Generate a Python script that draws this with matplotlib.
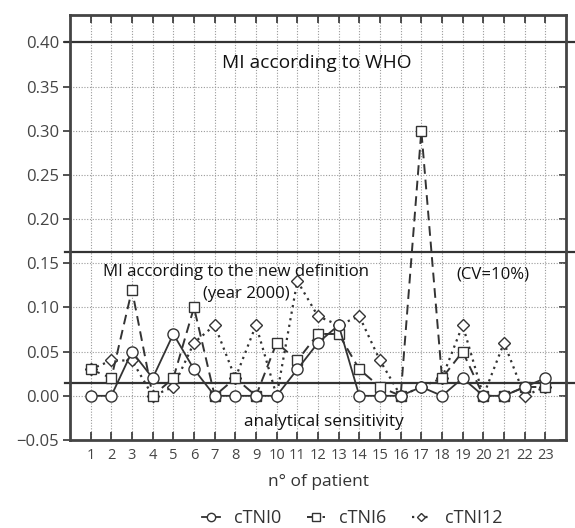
import matplotlib
matplotlib.use("Agg")
import matplotlib.pyplot as plt
import numpy as np

patients = list(range(1, 24))
ctni0 = [0.00, 0.00, 0.05, 0.02, 0.07, 0.03, 0.00, 0.00, 0.00, 0.00, 0.03, 0.06,
         0.08, 0.00, 0.00, 0.00, 0.01, 0.00, 0.02, 0.00, 0.00, 0.01, 0.02]
ctni6 = [0.03, 0.02, 0.12, 0.00, 0.02, 0.10, 0.00, 0.02, 0.00, 0.06, 0.04, 0.07,
         0.07, 0.03, 0.01, 0.00, 0.30, 0.02, 0.05, 0.00, 0.00, 0.01, 0.01]
ctni12 = [0.03, 0.04, 0.04, 0.00, 0.01, 0.06, 0.08, 0.02, 0.08, 0.00, 0.13, 0.09,
          0.08, 0.09, 0.04, 0.00, 0.01, 0.02, 0.08, 0.00, 0.06, 0.00, 0.01]
yticks = [-0.05, 0.00, 0.05, 0.10, 0.15, 0.20, 0.25, 0.30, 0.35, 0.40]
thresholds = [0.40, 0.163, 0.014]
labels = ["cTNI0", "cTNI6", "cTNI12"]

plt.rcParams['font.family'] = ['Open Sans', 'DejaVu Sans']
dark = '#333333'

fig = plt.figure(figsize=(5.75, 5.28), dpi=100)
ax = fig.add_axes([70/575, 88/528, (566-70)/575, (440-15)/528])

ax.set_xlim(0, 24)
ax.set_ylim(-0.05, 0.431)

# grid
for x in patients:
    ax.axvline(x, color='#9a9a9a', lw=0.8, ls=(0, (1, 1.5)), zorder=1)
for y in yticks[1:-1]:
    ax.axhline(y, color='#9a9a9a', lw=0.8, ls=(0, (1, 1.5)), zorder=1)

# threshold lines
for t in thresholds:
    ax.axhline(t, xmin=-0.01, xmax=1.02, color=dark, lw=1.6, zorder=2, clip_on=False)

mk = dict(markerfacecolor='white', markeredgecolor=dark, markeredgewidth=1.0, color=dark, zorder=4)
ax.plot(patients, ctni12, ls=(0, (1, 2)), lw=1.6, marker='D', ms=6, label=labels[2], **mk)
ax.plot(patients, ctni6, ls=(0, (5, 3)), lw=1.4, marker='s', ms=7, label=labels[1], **mk)
ax.plot(patients, ctni0, ls='-', lw=1.3, marker='o', ms=8, label=labels[0], **mk)

ax.set_xticks(patients)
ax.set_xticklabels([str(p) for p in patients], fontsize=10.5, color='#444444')
ax.set_yticks(yticks)
ax.set_yticklabels(['\u22120.05'] + [f'{v:.2f}' for v in yticks[1:]], fontsize=12, color='#444444')
ax.tick_params(axis='x', direction='in', length=6, width=1.2, color=dark, top=True, pad=6)
ax.tick_params(axis='y', direction='out', length=5, width=1.2, color=dark, pad=3)
ax2 = ax.secondary_yaxis('right')
ax2.set_yticks(yticks)
ax2.tick_params(direction='in', length=5, width=1.2, color=dark, labelright=False)
ax2.spines['right'].set_visible(False)

for s in ax.spines.values():
    s.set_linewidth(2)
    s.set_color('#444444')

ax.set_xlabel('n\u00b0 of patient', fontsize=12.5, color='#333333', labelpad=8)

tc = '#111111'
ax.text(11.95, 0.377, 'MI according to WHO', fontsize=13.8, ha='center', va='center', color=tc)
ax.text(8.03, 0.140, 'MI according to the new definition', fontsize=12.1, ha='center', va='center', color=tc)
ax.text(8.55, 0.115, '(year 2000)', fontsize=12.1, ha='center', va='center', color=tc)
ax.text(20.46, 0.1375, '(CV=10%)', fontsize=12.1, ha='center', va='center', color=tc)
ax.text(12.29, -0.0295, 'analytical sensitivity', fontsize=12.4, ha='center', va='center', color=tc)

handles, labs = ax.get_legend_handles_labels()
order = [2, 1, 0]
leg = fig.legend([handles[i] for i in order], [labs[i] for i in order],
                 loc='center', bbox_to_anchor=(352/575, 1 - 518/528), ncol=3,
                 frameon=False, fontsize=13, handlelength=1.0, columnspacing=1.4,
                 handletextpad=0.8, markerscale=0.75, labelcolor='#333333')

fig.savefig('out.png', dpi=100)
